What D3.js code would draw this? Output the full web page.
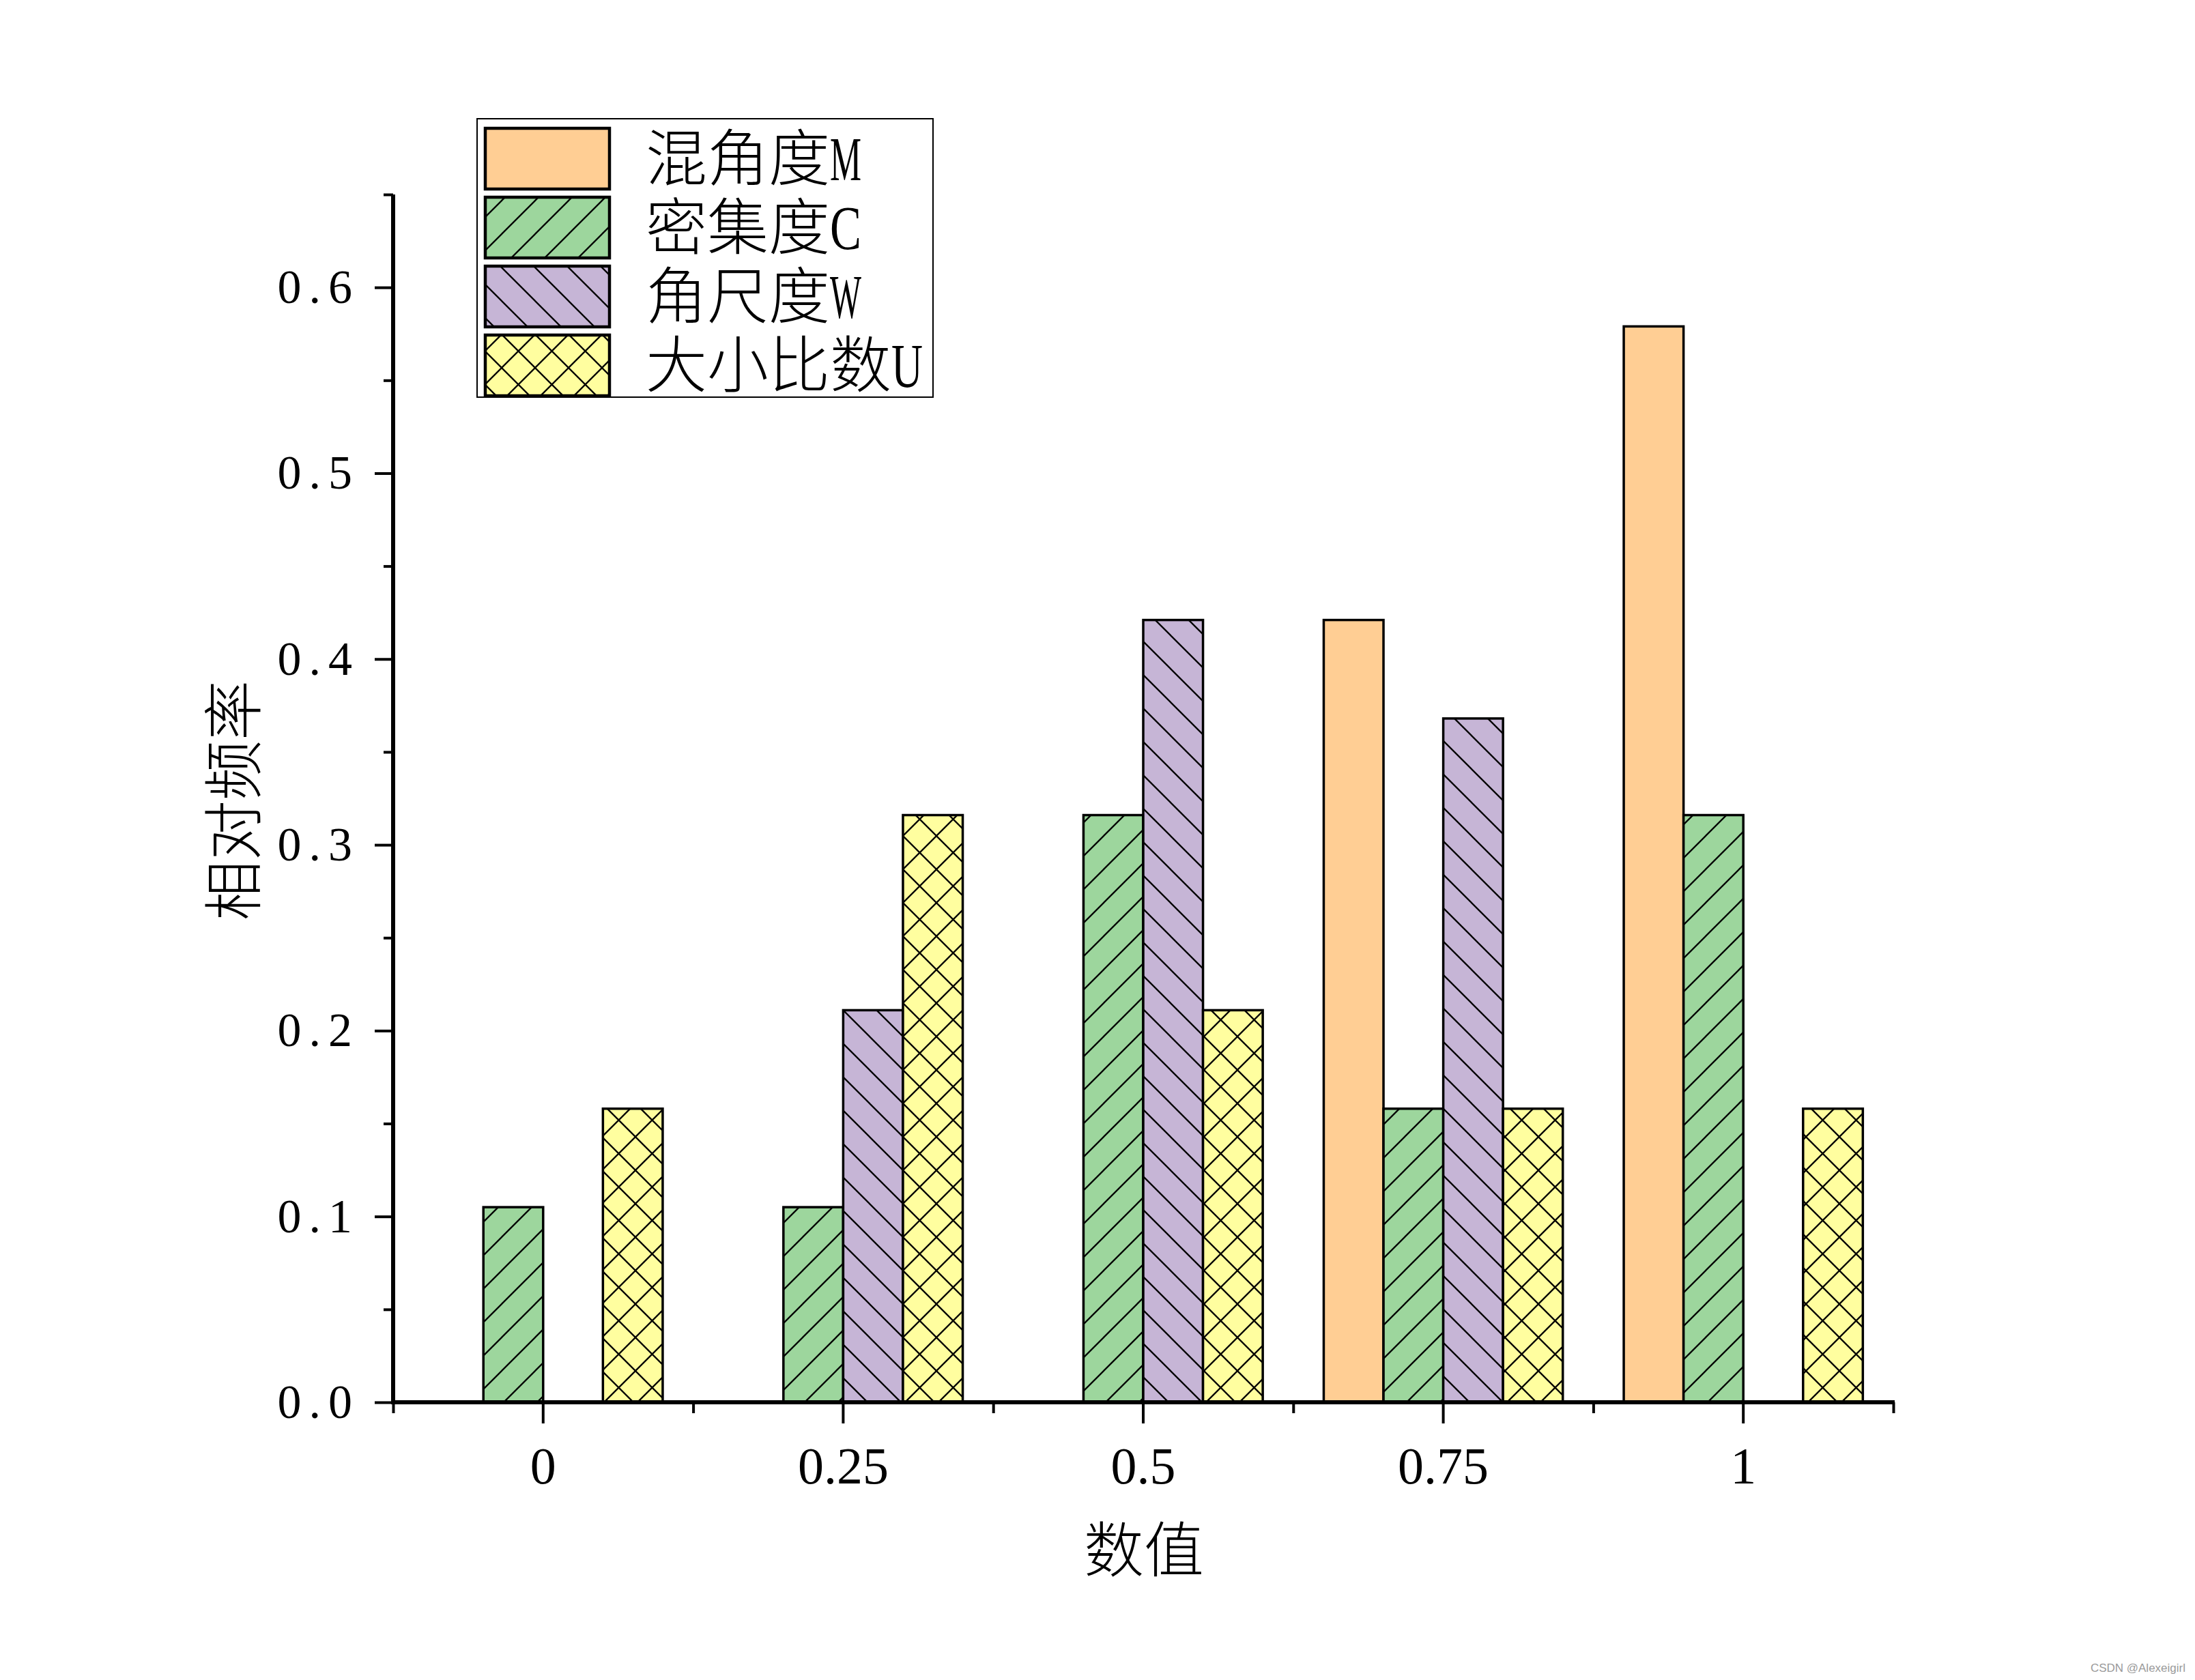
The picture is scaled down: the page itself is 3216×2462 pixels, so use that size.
<!DOCTYPE html>
<html>
<head>
<meta charset="utf-8">
<script src="https://cdn.jsdelivr.net/npm/d3@7"></script>
<style>
  html, body { margin: 0; padding: 0; background: #fff; }
  svg { display: block; }
</style>
</head>
<body>
<script>
// ---------- data ----------
const categories = ["0", "0.25", "0.5", "0.75", "1"];
const seriesNames = ["混角度M", "密集度C", "角尺度W", "大小比数U"];
const seriesCJK = ["混角度", "密集度", "角尺度", "大小比数"];
const seriesLatin = ["M", "C", "W", "U"];
const valuesM = [0, 0, 0, 0.421, 0.579];
const valuesC = [0.105, 0.105, 0.316, 0.158, 0.316];
const valuesW = [0, 0.211, 0.421, 0.368, 0];
const valuesU = [0.158, 0.316, 0.211, 0.158, 0.158];
const yTickValues = [0, 0.1, 0.2, 0.3, 0.4, 0.5, 0.6];
const yMinorValues = [0.05, 0.15, 0.25, 0.35, 0.45, 0.55, 0.65];
const xTitle = "数值";
const yTitle = "相对频率";
const seriesColors = ["#FFCE94", "#9DD69D", "#C6B5D6", "#FFFE9F"];
const seriesPatterns = ["none", "fwd", "back", "cross"];

const allSeries = [valuesM, valuesC, valuesW, valuesU];

// ---------- layout ----------
const W = 3216, H = 2462;
const X0 = 576, X1 = 2774, Y0 = 2055, Y1 = 285;
const serifFont = '"Liberation Serif", "Noto Sans CJK SC", serif';

const svg = d3.select("body").append("svg")
  .attr("width", W).attr("height", H)
  .attr("viewBox", `0 0 ${W} ${H}`);
svg.append("rect").attr("width", W).attr("height", H).attr("fill", "#fff");

// ---------- patterns ----------
const defs = svg.append("defs");
const P = 49;
function makePattern(id, color, kind) {
  const p = defs.append("pattern").attr("id", id)
    .attr("patternUnits", "userSpaceOnUse")
    .attr("width", P).attr("height", P);
  p.append("rect").attr("width", P).attr("height", P).attr("fill", color);
  let d = "";
  if (kind === "fwd" || kind === "cross") {
    d += `M-2,${P + 2} L${P + 2},-2 M-6,6 L6,-6 M${P - 6},${P + 6} L${P + 6},${P - 6} `;
  }
  if (kind === "back" || kind === "cross") {
    d += `M-2,-2 L${P + 2},${P + 2} M-6,${P - 6} L6,${P + 6} M${P - 6},-6 L${P + 6},6 `;
  }
  if (d) p.append("path").attr("d", d).attr("stroke", "#000")
    .attr("stroke-width", 2.3).attr("fill", "none");
}
seriesNames.forEach((s, i) => makePattern("pat" + i, seriesColors[i], seriesPatterns[i]));

// ---------- scales ----------
const x0 = d3.scaleBand().domain(categories).range([X0, X1]).paddingInner(0).paddingOuter(0);
const x1 = d3.scaleBand().domain(d3.range(seriesNames.length))
  .range([0, x0.bandwidth()]).paddingInner(0).paddingOuter(0.51);
const y = d3.scaleLinear().domain([0, 0.65]).range([Y0, Y1]);

// ---------- bars ----------
const barData = [];
allSeries.forEach((vals, si) => {
  vals.forEach((v, ci) => {
    if (v > 0) barData.push({ si, cat: categories[ci], v });
  });
});
svg.append("g").selectAll("rect").data(barData).join("rect")
  .attr("x", d => x0(d.cat) + x1(d.si))
  .attr("y", d => y(d.v))
  .attr("width", x1.bandwidth())
  .attr("height", d => y(0) - y(d.v))
  .attr("fill", d => `url(#pat${d.si})`)
  .attr("stroke", "#000").attr("stroke-width", 3.5);

// ---------- y axis ----------
const yAxisG = svg.append("g").attr("transform", `translate(${X0},0)`);
yAxisG.call(d3.axisLeft(y).tickValues(yTickValues).tickSize(27).tickPadding(22)
  .tickFormat(d3.format(".1f")));
yAxisG.append("g").call(d3.axisLeft(y).tickValues(yMinorValues).tickSize(14).tickFormat(""));
yAxisG.selectAll(".domain").remove();
yAxisG.selectAll(".tick line").attr("stroke", "#000").attr("stroke-width", 4);
yAxisG.selectAll(".tick text")
  .attr("font-family", serifFont).attr("font-size", 70)
  .attr("letter-spacing", 11).attr("fill", "#000");
yAxisG.append("line").attr("x1", 0).attr("x2", 0).attr("y1", Y0 + 3).attr("y2", Y1)
  .attr("stroke", "#000").attr("stroke-width", 6);

// ---------- x axis ----------
const xAxisG = svg.append("g").attr("transform", `translate(0,${Y0})`);
xAxisG.call(d3.axisBottom(x0).tickSize(31).tickPadding(34));
xAxisG.append("g").call(
  d3.axisBottom(d3.scaleLinear().domain([0, categories.length]).range([X0, X1]))
    .tickValues(d3.range(categories.length + 1)).tickSize(16).tickFormat(""));
xAxisG.selectAll(".domain").remove();
xAxisG.selectAll(".tick line").attr("stroke", "#000").attr("stroke-width", 4);
xAxisG.selectAll(".tick text")
  .attr("font-family", serifFont).attr("font-size", 76).attr("fill", "#000");
xAxisG.append("line").attr("x1", X0 - 3).attr("x2", X1 + 2).attr("y1", 0).attr("y2", 0)
  .attr("stroke", "#000").attr("stroke-width", 6);

// ---------- axis titles ----------
svg.append("text").text(xTitle)
  .attr("x", 1676).attr("y", 2272).attr("dy", "0.35em")
  .attr("text-anchor", "middle").attr("font-family", serifFont)
  .attr("font-size", 88).attr("font-weight", 300).attr("fill", "#000");
svg.append("text").text(yTitle)
  .attr("transform", "translate(343,1173) rotate(-90)").attr("dy", "0.35em")
  .attr("text-anchor", "middle").attr("font-family", serifFont)
  .attr("font-size", 88).attr("font-weight", 300).attr("fill", "#000");

// ---------- legend ----------
const legend = svg.append("g");
legend.append("rect").attr("x", 699).attr("y", 174).attr("width", 668).attr("height", 408)
  .attr("fill", "#fff").attr("stroke", "#000").attr("stroke-width", 2);
const rowY = d3.scaleBand().domain(d3.range(seriesNames.length)).range([188, 592]).paddingInner(0);
seriesNames.forEach((name, i) => {
  const ry = rowY(i);
  legend.append("rect").attr("x", 711).attr("y", ry).attr("width", 182).attr("height", 89)
    .attr("fill", `url(#pat${i})`).attr("stroke", "#000").attr("stroke-width", 4.5);
  const t = legend.append("text").attr("x", 946).attr("y", ry + 44).attr("dy", "0.36em")
    .attr("font-family", serifFont).attr("font-size", 90).attr("fill", "#000");
  t.append("tspan").text(seriesCJK[i]).attr("font-weight", 300);
  t.append("tspan").text(seriesLatin[i]).attr("font-size", 92)
    .attr("textLength", 46).attr("lengthAdjust", "spacingAndGlyphs");
});

// ---------- watermark ----------
svg.append("text").text("CSDN @Alexeigirl")
  .attr("x", 3202).attr("y", 2450).attr("text-anchor", "end")
  .attr("font-family", '"Liberation Sans", Arial, sans-serif')
  .attr("font-size", 17).attr("fill", "#9a9a9a");
</script>
</body>
</html>
